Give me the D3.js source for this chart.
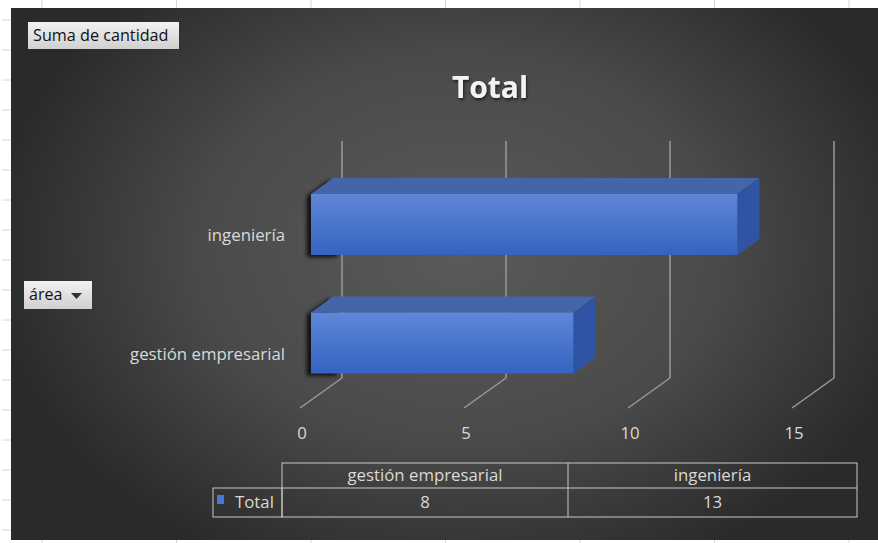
<!DOCTYPE html>
<html><head><meta charset="utf-8">
<script src="https://cdn.jsdelivr.net/npm/d3@7"></script>
<style>html,body{margin:0;padding:0;background:#fff;}svg{display:block;}</style>
</head><body>
<svg id="chart" width="878" height="543"></svg>
<script>
// ---- data ----
const categories = ["ingeniería", "gestión empresarial"];   // top to bottom on the chart
const values = [13, 8];
const tableCategories = ["gestión empresarial", "ingeniería"];
const tableValues = [8, 13];
const seriesName = "Total";
const xTicks = [0, 5, 10, 15];
const chartTitle = "Total";
const valueButton = "Suma de cantidad";
const fieldButton = "área";

const svg = d3.select("#chart");
const W = 878, H = 543;
const font = "'Open Sans', 'Noto Sans', sans-serif";
const fs = 16.8;
const defs = svg.append("defs");

// background gradient
const rg = defs.append("radialGradient").attr("id", "bg")
  .attr("gradientUnits", "userSpaceOnUse")
  .attr("cx", 460).attr("cy", 250).attr("r", 470)
  .attr("gradientTransform", "translate(460,250) scale(1,0.75) translate(-460,-250)");
rg.append("stop").attr("offset", "0").attr("stop-color", "#5a5a5a");
rg.append("stop").attr("offset", "0.55").attr("stop-color", "#4a4a4a");
rg.append("stop").attr("offset", "1").attr("stop-color", "#2a2a2a");

const fg = defs.append("linearGradient").attr("id", "front").attr("x1", 0).attr("y1", 0).attr("x2", 0).attr("y2", 1);
fg.append("stop").attr("offset", "0").attr("stop-color", "#5f87d8");
fg.append("stop").attr("offset", "1").attr("stop-color", "#3463c0");
const btn = defs.append("linearGradient").attr("id", "btn").attr("x1", 0).attr("y1", 0).attr("x2", 0).attr("y2", 1);
btn.append("stop").attr("offset", "0").attr("stop-color", "#f2f2f2");
btn.append("stop").attr("offset", "1").attr("stop-color", "#d0d0d0");
const blur = defs.append("filter").attr("id", "blur").attr("x", "-20%").attr("y", "-20%").attr("width", "140%").attr("height", "140%");
blur.append("feGaussianBlur").attr("stdDeviation", 2);
const tshadow = defs.append("filter").attr("id", "tsh");
tshadow.append("feDropShadow").attr("dx", 1).attr("dy", 2).attr("stdDeviation", 1.5).attr("flood-color", "#000").attr("flood-opacity", 0.6);

// white spreadsheet margin with faint grid ticks
svg.append("rect").attr("width", W).attr("height", H).attr("fill", "#fff");
const leftTicks = d3.range(20, 540, 30);
svg.selectAll(".lt").data(leftTicks).join("line")
  .attr("x1", 2).attr("x2", 11).attr("y1", d => d).attr("y2", d => d)
  .attr("stroke", "#d6d6d6");
const topTicks = d3.range(42, 878, 134.5);
svg.selectAll(".tt").data(topTicks).join("line")
  .attr("x1", d => d).attr("x2", d => d).attr("y1", 0).attr("y2", 8).attr("stroke", "#d6d6d6");
svg.selectAll(".bt").data(topTicks).join("line")
  .attr("x1", d => d).attr("x2", d => d).attr("y1", 540).attr("y2", 543).attr("stroke", "#d6d6d6");

svg.append("rect").attr("x", 11).attr("y", 8).attr("width", W - 11).attr("height", 532).attr("fill", "url(#bg)");

// ---- scales & 3D projection ----
const wallTop = 141, wallBottom = 378;
const depthDX = 42, depthDY = 30;
const x = d3.scaleLinear().domain([0, 15]).range([342, 834]);
const y = d3.scaleBand().domain(categories).range([143, 380]).paddingInner(0.485).paddingOuter(0.2425);
const P = (v, yy, depth) => [x(v) - (1 - depth) * depthDX, yy + (1 - depth) * depthDY];

const grid = svg.append("g");
xTicks.forEach(t => {
  grid.append("line").attr("x1", x(t)).attr("x2", x(t)).attr("y1", wallTop).attr("y2", wallBottom)
    .attr("stroke", "#9a9a9a").attr("stroke-width", 1.5);
  const [fx, fy] = P(t, wallBottom, 0);
  grid.append("line").attr("x1", x(t)).attr("y1", wallBottom).attr("x2", fx).attr("y2", fy)
    .attr("stroke", "#9a9a9a").attr("stroke-width", 1.5);
  svg.append("text").attr("x", fx + 2).attr("y", 439).attr("text-anchor", "middle")
    .attr("font-family", font).attr("font-size", fs).attr("fill", "#d9d9d9").text(t);
});

// ---- bars ----
const dFront = 0.26, dBack = 0.79;
const bars = svg.append("g");
categories.forEach((c, i) => {
  const v = values[i];
  const y0 = y(c), y1 = y(c) + y.bandwidth();
  const fTL = P(0, y0, dFront), fTR = P(v, y0, dFront), fBR = P(v, y1, dFront), fBL = P(0, y1, dFront);
  const bTL = P(0, y0, dBack), bTR = P(v, y0, dBack), bBR = P(v, y1, dBack);
  const pts = a => a.map(p => p.join(",")).join(" ");
  // shadow
  bars.append("polygon")
    .attr("points", pts([bTL, [fTL[0], fTL[1]], fBL, [fBL[0] + 30, fBL[1]], [fTL[0] + 30, fTL[1]]].map(p => [p[0] - 4, p[1] + 2])))
    .attr("fill", "#000").attr("opacity", 0.85).attr("filter", "url(#blur)");
  bars.append("polygon").attr("points", pts([fTL, bTL, bTR, fTR])).attr("fill", "#4466a8");
  bars.append("polygon").attr("points", pts([fTR, bTR, bBR, fBR])).attr("fill", "#2f54a3");
  bars.append("polygon").attr("points", pts([fTL, fTR, fBR, fBL])).attr("fill", "url(#front)");
  svg.append("text").attr("x", 285).attr("y", (fTL[1] + fBL[1]) / 2 + 17).attr("text-anchor", "end")
    .attr("font-family", font).attr("font-size", fs).attr("fill", "#d9d9d9").text(c);
});

// ---- title ----
svg.append("text").attr("x", 490).attr("y", 98).attr("text-anchor", "middle")
  .attr("font-family", font).attr("font-weight", "bold").attr("font-size", 30)
  .attr("fill", "#f2f2f2").attr("filter", "url(#tsh)").text(chartTitle);

// ---- buttons ----
svg.append("rect").attr("x", 28).attr("y", 22).attr("width", 151).attr("height", 27).attr("fill", "url(#btn)");
svg.append("text").attr("x", 33).attr("y", 41).attr("font-family", font).attr("font-size", 16.2).attr("fill", "#111").text(valueButton);
svg.append("rect").attr("x", 24).attr("y", 281).attr("width", 68).attr("height", 28).attr("fill", "url(#btn)");
svg.append("text").attr("x", 29).attr("y", 300).attr("font-family", font).attr("font-size", 16).attr("fill", "#111").text(fieldButton);
svg.append("path").attr("d", "M71,293 L82,293 L76.5,299 Z").attr("fill", "#333");

// ---- data table ----
const tbl = svg.append("g").attr("stroke", "#c8c8c8").attr("stroke-width", 1).attr("fill", "none");
const colX = [282, 568, 857];
const tTop = 463, tMid = 488, tBot = 517, tLeft = 213;
tbl.append("rect").attr("x", colX[0]).attr("y", tTop).attr("width", colX[2] - colX[0]).attr("height", tBot - tTop);
tbl.append("rect").attr("x", tLeft).attr("y", tMid).attr("width", colX[0] - tLeft).attr("height", tBot - tMid);
tbl.append("line").attr("x1", colX[0]).attr("x2", colX[2]).attr("y1", tMid).attr("y2", tMid);
tbl.append("line").attr("x1", colX[1]).attr("x2", colX[1]).attr("y1", tTop).attr("y2", tBot);
tableCategories.forEach((c, i) => {
  const cx = (colX[i] + colX[i + 1]) / 2;
  svg.append("text").attr("x", cx).attr("y", 481).attr("text-anchor", "middle")
    .attr("font-family", font).attr("font-size", fs).attr("fill", "#d9d9d9").text(c);
  svg.append("text").attr("x", cx).attr("y", 508).attr("text-anchor", "middle")
    .attr("font-family", font).attr("font-size", fs).attr("fill", "#d9d9d9").text(tableValues[i]);
});
svg.append("rect").attr("x", 217).attr("y", 495).attr("width", 7).attr("height", 9).attr("fill", "#4a78d8");
svg.append("text").attr("x", 235).attr("y", 508).attr("font-family", font).attr("font-size", fs).attr("fill", "#d9d9d9").text(seriesName);
</script>
</body></html>
